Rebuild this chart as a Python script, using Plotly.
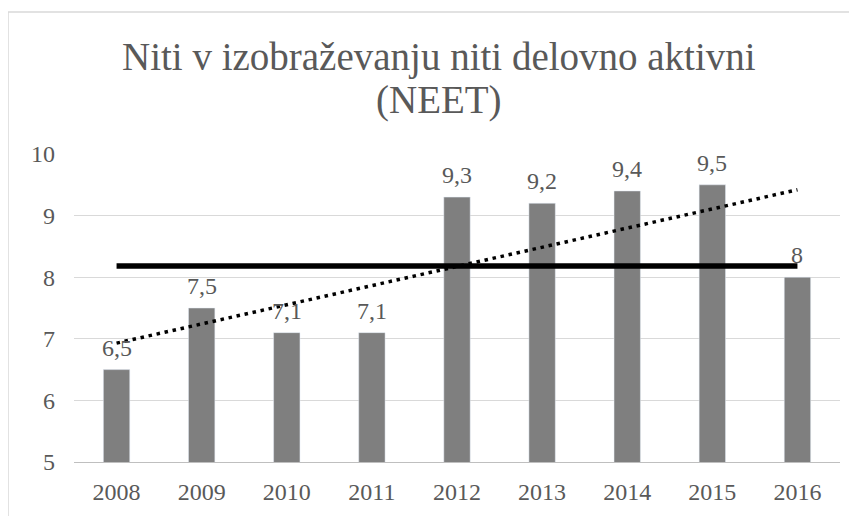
import plotly.graph_objects as go

years = ["2008", "2009", "2010", "2011", "2012", "2013", "2014", "2015", "2016"]
neet = [6.5, 7.5, 7.1, 7.1, 9.3, 9.2, 9.4, 9.5, 8.0]
labels = ["6,5", "7,5", "7,1", "7,1", "9,3", "9,2", "9,4", "9,5", "8"]
avg_level = 8.18
trend_ends = [6.93, 9.42]

serif = "Liberation Serif"
grey_text = "#595959"

# the page body adds an 8px margin, so the figure is 849x508
# plot area in figure pixels: x 66..832, y 146..454
W, H = 849, 508
L, R, T, B = 66, 17, 146, 54
PW, PH = W - L - R, H - T - B


def px_x(x):
    return (x - L) / PW


def px_y(y):
    return (H - B - y) / PH


fig = go.Figure()
fig.add_trace(go.Bar(
    x=years,
    y=neet,
    marker=dict(color="#7f7f7f"),
    width=0.31,
))
fig.add_trace(go.Scatter(
    x=years,
    y=[avg_level] * len(years),
    mode="lines",
    line=dict(color="black", width=5.5),
))
fig.add_trace(go.Scatter(
    x=[years[0], years[-1]],
    y=trend_ends,
    mode="lines",
    line=dict(color="black", width=3.5, dash="3.5px,4.7px"),
))

# value labels sit about 23px above each bar
# (category index as x: year strings would be read as indices)
annotations = [
    dict(text=lab, x=i, y=val, xref="x", yref="y", yanchor="middle",
         yshift=22, showarrow=False,
         font=dict(family=serif, size=24, color=grey_text))
    for i, (val, lab) in enumerate(zip(neet, labels))
]

title_lines = ["Niti v izobraževanju niti delovno aktivni", "(NEET)"]
title_font = dict(family=serif, size=39, color=grey_text)
annotations += [
    dict(text=title_lines[0], xref="paper", yref="paper", x=px_x(430.5),
         y=px_y(49), xanchor="center", yanchor="middle", showarrow=False,
         font=title_font),
    dict(text=title_lines[1], xref="paper", yref="paper", x=px_x(430.5),
         y=px_y(92), xanchor="center", yanchor="middle", showarrow=False,
         font=title_font),
]

fig.update_layout(
    width=W,
    height=H,
    showlegend=False,
    paper_bgcolor="white",
    plot_bgcolor="white",
    margin=dict(l=L, r=R, t=T, b=B, autoexpand=False),
    annotations=annotations,
    xaxis=dict(
        type="category",
        range=[-0.5, len(years) - 0.5],
        showgrid=False,
        showline=True,
        linecolor="#bfbfbf",
        linewidth=1,
        ticks="",
        tickfont=dict(family=serif, size=24, color=grey_text),
        ticklabelstandoff=8,
        automargin=False,
    ),
    yaxis=dict(
        range=[5, 10],
        dtick=1,
        showgrid=True,
        gridcolor="#d9d9d9",
        gridwidth=1,
        zeroline=False,
        tickfont=dict(family=serif, size=24, color=grey_text),
        ticklabelstandoff=18,
        automargin=False,
    ),
    shapes=[dict(
        type="rect",
        xref="paper",
        yref="paper",
        x0=px_x(0),
        x1=px_x(W + 20),
        y0=px_y(H + 20),
        y1=px_y(4),
        line=dict(color="#d9d9d9", width=1.5),
        layer="below",
    )],
)

fig.write_html("out.html")
